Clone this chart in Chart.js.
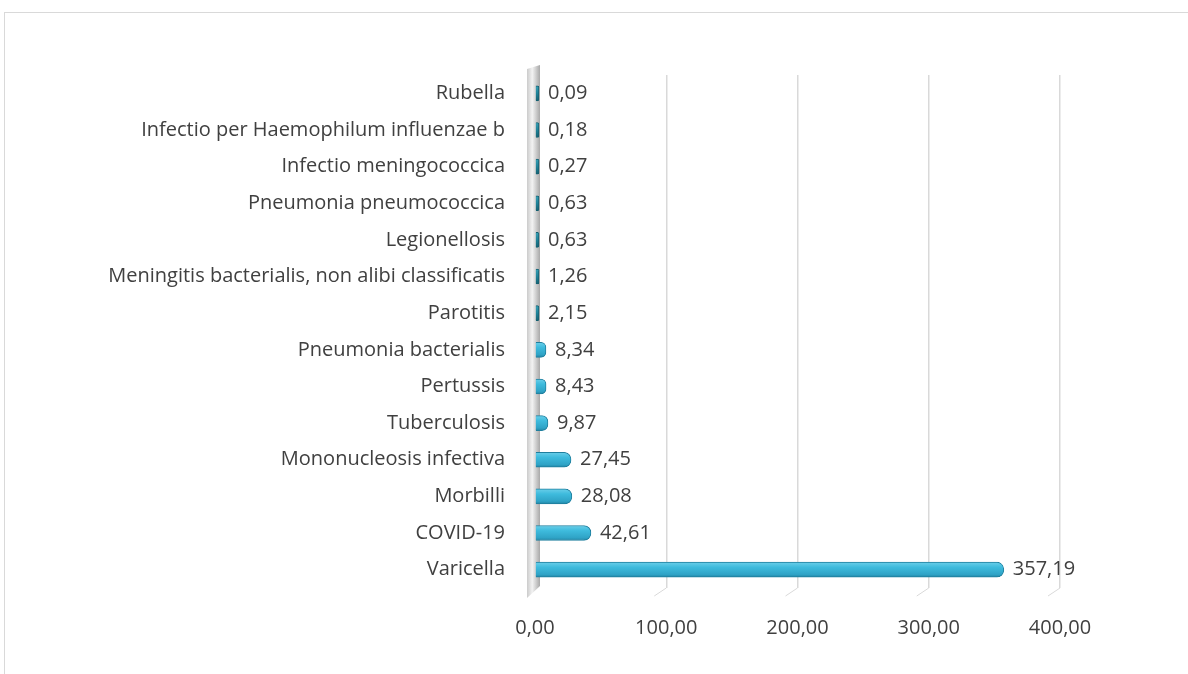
<!DOCTYPE html>
<html>
<head>
<meta charset="utf-8">
<script src="https://cdn.jsdelivr.net/npm/chart.js@4/dist/chart.umd.min.js"></script>
<style>
  body { margin: 0; background: #fff; overflow: hidden; }
  #frame { position: absolute; left: 4px; top: 12px; width: 1200px; height: 700px; border: 1px solid #d9d9d9; }
  #wrap { position: absolute; left: 0; top: 0; width: 1188px; height: 674px; }
</style>
</head>
<body>
<div id="frame"></div>
<div id="wrap"><canvas id="chart" width="1188" height="674"></canvas></div>
<script>
const diseases = [
  "Rubella",
  "Infectio per Haemophilum influenzae b",
  "Infectio meningococcica",
  "Pneumonia pneumococcica",
  "Legionellosis",
  "Meningitis bacterialis, non alibi classificatis",
  "Parotitis",
  "Pneumonia bacterialis",
  "Pertussis",
  "Tuberculosis",
  "Mononucleosis infectiva",
  "Morbilli",
  "COVID-19",
  "Varicella"
];

const rates = [0.09, 0.18, 0.27, 0.63, 0.63, 1.26, 2.15, 8.34, 8.43, 9.87, 27.45, 28.08, 42.61, 357.19];

const xTicks = [0, 100, 200, 300, 400];

const textColor = "#404040";
const fontFamily = "'Open Sans', sans-serif";
const fontSize = 20;

function fmt(v) {
  return v.toFixed(2).replace(".", ",");
}

// cylinder look: lighter top, darker bottom
function barFill(ctx) {
  const chart = ctx.chart;
  const small = rates[ctx.dataIndex] < 3;
  const y = chart.scales.y;
  if (!y || !chart.chartArea) return small ? "#1f8399" : "#38b4d7";
  const yc = y.getPixelForValue(ctx.dataIndex);
  const g = chart.ctx.createLinearGradient(0, yc - 8, 0, yc + 8);
  if (small) {
    g.addColorStop(0, "#3aa0b5");
    g.addColorStop(0.5, "#1f8399");
    g.addColorStop(1, "#155e6e");
  } else {
    g.addColorStop(0, "#6fd0ea");
    g.addColorStop(0.35, "#3ebbdd");
    g.addColorStop(0.8, "#2fa3c6");
    g.addColorStop(1, "#1f7f9e");
  }
  return g;
}

// grey 3D wall on the left of the zero line
const wallPlugin = {
  id: "wall",
  beforeDatasetsDraw(chart) {
    const c = chart.ctx;
    const area = chart.chartArea;
    const x0 = chart.scales.x.getPixelForValue(0);
    const g = c.createLinearGradient(x0 - 9, 0, x0 + 5, 0);
    g.addColorStop(0, "#c4c4c4");
    g.addColorStop(0.45, "#f2f2f2");
    g.addColorStop(1, "#a8a8a8");
    c.save();
    c.fillStyle = g;
    c.beginPath();
    c.moveTo(x0 - 8, area.top - 6);
    c.lineTo(x0 + 5, area.top - 10);
    c.lineTo(x0 + 5, area.bottom - 2);
    c.lineTo(x0 - 8, area.bottom + 10);
    c.closePath();
    c.fill();
    // little perspective feet under the grid lines
    c.strokeStyle = "#d9d9d9";
    c.lineWidth = 1;
    xTicks.slice(1).forEach(t => {
      const x = chart.scales.x.getPixelForValue(t);
      c.beginPath();
      c.moveTo(x, area.bottom);
      c.lineTo(x - 12, area.bottom + 8);
      c.stroke();
    });
    c.restore();
  }
};

const labelPlugin = {
  id: "valueLabels",
  afterDatasetsDraw(chart) {
    const c = chart.ctx;
    const meta = chart.getDatasetMeta(0);
    c.save();
    c.font = fontSize + "px " + fontFamily;
    c.fillStyle = textColor;
    c.textBaseline = "middle";
    c.textAlign = "left";
    meta.data.forEach((bar, i) => {
      c.fillText(fmt(rates[i]), bar.x + 9, bar.y);
    });
    c.restore();
  }
};

new Chart(document.getElementById("chart"), {
  type: "bar",
  data: {
    labels: diseases,
    datasets: [{
      data: rates,
      backgroundColor: barFill,
      borderColor: rates.map(v => v < 3 ? "#145f70" : "#1f7f9e"),
      borderWidth: 1,
      borderRadius: 7,
      borderSkipped: "start",
      barThickness: 15,
      minBarLength: 4
    }]
  },
  options: {
    indexAxis: "y",
    responsive: false,
    animation: false,
    layout: { padding: { top: 75, right: 128, left: 0, bottom: 0 } },
    plugins: {
      legend: { display: false },
      tooltip: { enabled: false }
    },
    scales: {
      x: {
        min: 0,
        max: 400,
        afterBuildTicks: s => { s.ticks = xTicks.map(v => ({ value: v })); },
        afterFit: s => { s.height = 86; },
        grid: { color: "#d9d9d9", drawTicks: false, lineWidth: 1.5 },
        border: { display: false },
        ticks: {
          padding: 28,
          color: textColor,
          font: { family: fontFamily, size: fontSize },
          callback: v => fmt(v)
        }
      },
      y: {
        afterFit: s => { s.width = 535; },
        grid: { display: false, drawTicks: false },
        border: { display: false },
        ticks: {
          padding: 30,
          color: textColor,
          font: { family: fontFamily, size: fontSize }
        }
      }
    }
  },
  plugins: [wallPlugin, labelPlugin]
});
</script>
</body>
</html>
